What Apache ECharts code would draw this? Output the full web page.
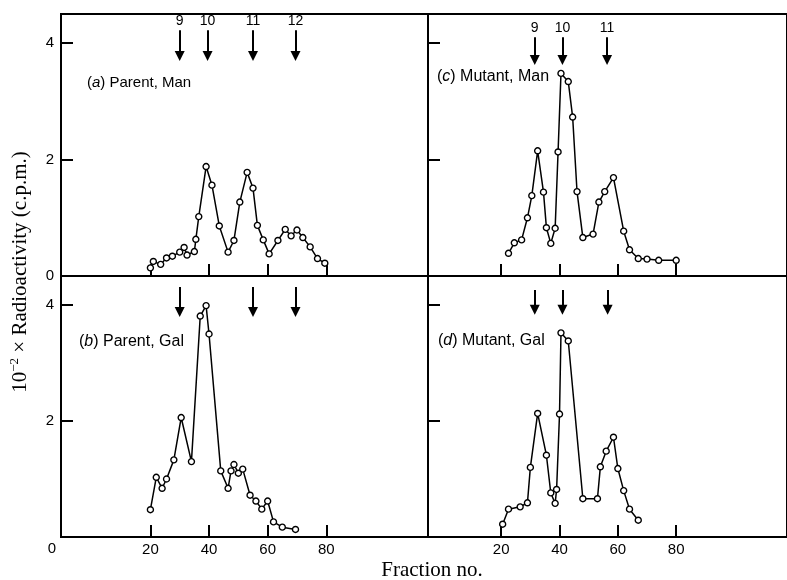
<!DOCTYPE html>
<html>
<head>
<meta charset="utf-8">
<script src="https://cdn.jsdelivr.net/npm/echarts@6/dist/echarts.min.js"></script>
<style>
  html, body { margin: 0; padding: 0; background: #fff; }
  #chart { width: 787px; height: 580px; }
</style>
</head>
<body>
<div id="chart"></div>
<script>
// fraction numbers and 10^-2 x c.p.m.
var fracA = [20, 21, 23.5, 25.5, 27.5, 30, 31.5, 32.5, 35, 35.5, 36.5, 39, 41, 43.5, 46.5, 48.5, 50.5, 53, 55, 56.5, 58.5, 60.5, 63.5, 66, 68, 70, 72, 74.5, 77, 79.5];
var cpmA  = [0.14, 0.25, 0.2, 0.31, 0.34, 0.41, 0.49, 0.36, 0.42, 0.63, 1.02, 1.88, 1.56, 0.86, 0.41, 0.61, 1.27, 1.78, 1.51, 0.87, 0.62, 0.38, 0.61, 0.8, 0.69, 0.79, 0.66, 0.5, 0.3, 0.22];

var fracB = [20, 22, 24, 25.5, 28, 30.5, 34, 37, 39, 40, 44, 46.5, 47.5, 48.5, 50, 51.5, 54, 56, 58, 60, 62, 65, 69.5];
var cpmB  = [0.47, 1.03, 0.84, 1.0, 1.33, 2.06, 1.3, 3.81, 3.99, 3.5, 1.14, 0.84, 1.14, 1.25, 1.1, 1.17, 0.72, 0.62, 0.48, 0.62, 0.26, 0.17, 0.13];

var fracC = [22.5, 24.5, 27, 29, 30.5, 32.5, 34.5, 35.5, 37, 38.5, 39.5, 40.5, 43, 44.5, 46, 48, 51.5, 53.5, 55.5, 58.5, 62, 64, 67, 70, 74, 80];
var cpmC  = [0.39, 0.57, 0.62, 1.0, 1.38, 2.15, 1.44, 0.83, 0.56, 0.82, 2.13, 3.48, 3.34, 2.73, 1.45, 0.66, 0.72, 1.27, 1.45, 1.69, 0.77, 0.45, 0.3, 0.29, 0.27, 0.27];

var fracD = [20.5, 22.5, 26.5, 29, 30, 32.5, 35.5, 37, 38.5, 39, 40, 40.5, 43, 48, 53, 54, 56, 58.5, 60, 62, 64, 67];
var cpmD  = [0.22, 0.48, 0.52, 0.59, 1.2, 2.13, 1.41, 0.76, 0.58, 0.82, 2.12, 3.52, 3.38, 0.66, 0.66, 1.21, 1.48, 1.72, 1.18, 0.8, 0.48, 0.29];

// marker arrows (fraction position + label)
var arrowsA = [30, 39.5, 55, 69.5];
var arrowLabelsA = ['9', '10', '11', '12'];
var arrowsB = [30, 55, 69.5];
var arrowsC = [31.5, 41, 56.3];
var arrowLabelsC = ['9', '10', '11'];
var arrowsD = [31.5, 41, 56.5];

var xTicks = [20, 40, 60, 80];
var yTicks = [2, 4];

var panelNames = ['a', 'b', 'c', 'd'];
var panelTexts = [' Parent, Man', ' Parent, Gal', ' Mutant, Man', ' Mutant, Gal'];

var sans = 'Liberation Sans';
var serif = 'Liberation Serif';

function pairs(xs, ys) {
	var out = [];
	for (var i = 0; i < xs.length; i++) {
		out.push([xs[i], ys[i]]);
	}
	return out;
}

function arrowLines(xs, labels, y1, y2) {
	return xs.map(function (x, i) {
		return [
			{ name: labels ? labels[i] : '', coord: [x, y1] },
			{ coord: [x, y2] }
		];
	});
}

function makeX(idx, min, max, showLabel) {
	return {
		gridIndex: idx, type: 'value', min: min, max: max,
		axisLine: { show: true, onZero: false, lineStyle: { color: '#000', width: 2 } },
		axisTick: { show: true, inside: true, length: 12, customValues: xTicks, lineStyle: { color: '#000', width: 2 } },
		axisLabel: { show: showLabel, customValues: xTicks, color: '#000', fontFamily: sans, fontSize: 15, margin: 5 },
		splitLine: { show: false }
	};
}

function makeY(idx, labels) {
	return {
		gridIndex: idx, type: 'value', min: 0, max: 4.5,
		axisLine: { show: true, onZero: false, lineStyle: { color: '#000', width: 2 } },
		axisTick: { show: true, inside: true, length: 12, customValues: yTicks, lineStyle: { color: '#000', width: 2 } },
		axisLabel: { show: labels != null, customValues: labels || [], color: '#000', fontFamily: sans, fontSize: 15, margin: 7 },
		splitLine: { show: false }
	};
}

function makeSeries(idx, data, arrows) {
	return {
		type: 'line', xAxisIndex: idx, yAxisIndex: idx, data: data,
		symbol: 'circle', symbolSize: 6, showAllSymbol: true,
		itemStyle: { color: '#fff', borderColor: '#000', borderWidth: 1.4 },
		lineStyle: { color: '#000', width: 1.5 },
		emphasis: { disabled: true },
		markLine: {
			silent: true, animation: false,
			symbol: ['none', 'triangle'], symbolSize: 10,
			lineStyle: { color: '#000', width: 2, type: 'solid' },
			itemStyle: { color: '#000' },
			label: { show: true, position: 'start', formatter: '{b}', color: '#000', fontFamily: sans, fontSize: 14, distance: 2 },
			data: arrows
		}
	};
}

var titles = [
	{ left: 87, top: 75, size: 15 }, { left: 79, top: 334, size: 16 },
	{ left: 437, top: 69, size: 16 }, { left: 438, top: 333, size: 16 }
].map(function (p, i) {
	return {
		left: p.left, top: p.top, padding: 0,
		text: '({i|' + panelNames[i] + '})' + panelTexts[i],
		textStyle: {
			color: '#000', fontFamily: sans, fontSize: p.size, fontWeight: 'normal',
			rich: { i: { fontStyle: 'italic', fontFamily: sans, fontSize: p.size, color: '#000' } }
		}
	};
});

var myChart = echarts.init(document.getElementById('chart'));

var option = {
	animation: false,
	backgroundColor: '#fff',
	title: titles,
	grid: [
		{ left: 61, top: 14, width: 367, height: 262, show: true, borderColor: '#000', borderWidth: 2 },
		{ left: 61, top: 276, width: 367, height: 261, show: true, borderColor: '#000', borderWidth: 2 },
		{ left: 428, top: 14, width: 362, height: 262, show: true, borderColor: '#000', borderWidth: 2 },
		{ left: 428, top: 276, width: 362, height: 261, show: true, borderColor: '#000', borderWidth: 2 }
	],
	xAxis: [
		makeX(0, -10.5, 114.7, false),
		makeX(1, -10.5, 114.7, true),
		makeX(2, -5.1, 118, false),
		makeX(3, -5.1, 118, true)
	],
	yAxis: [
		makeY(0, [0, 2, 4]),
		makeY(1, [2, 4]),
		makeY(2, null),
		makeY(3, null)
	],
	series: [
		makeSeries(0, pairs(fracA, cpmA), arrowLines(arrowsA, arrowLabelsA, 4.22, 3.78)),
		makeSeries(1, pairs(fracB, cpmB), arrowLines(arrowsB, null, 4.31, 3.88)),
		makeSeries(2, pairs(fracC, cpmC), arrowLines(arrowsC, arrowLabelsC, 4.1, 3.71)),
		makeSeries(3, pairs(fracD, cpmD), arrowLines(arrowsD, null, 4.26, 3.92))
	],
	graphic: [
		{
			type: 'text', x: 52, y: 549,
			style: { text: '0', fill: '#000', font: '15px "Liberation Sans"', align: 'center', verticalAlign: 'middle' }
		},
		{
			type: 'text', x: 432, y: 570,
			style: { text: 'Fraction no.', fill: '#000', font: '21px "Liberation Serif"', align: 'center', verticalAlign: 'middle' }
		},
		{
			type: 'text', x: 20, y: 272, rotation: Math.PI / 2,
			style: {
				text: '10{sup|\u22122} \u00d7 Radioactivity (c.p.m.)',
				fill: '#000', font: '21px "Liberation Serif"', align: 'center', verticalAlign: 'middle',
				rich: {
					sup: { fontFamily: serif, fontSize: 13, fill: '#000', verticalAlign: 'top', lineHeight: 24 }
				}
			}
		}
	]
};

myChart.setOption(option);
</script>
</body>
</html>
